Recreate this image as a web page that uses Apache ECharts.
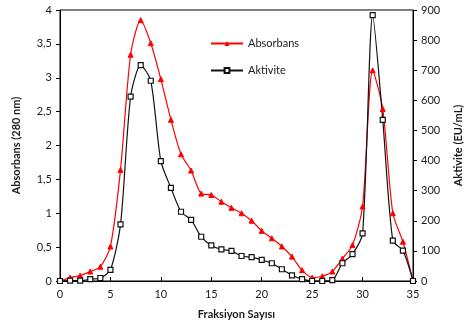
<!DOCTYPE html>
<html>
<head>
<meta charset="utf-8">
<script src="https://cdn.jsdelivr.net/npm/echarts@6/dist/echarts.min.js"></script>
<style>
  html, body { margin: 0; padding: 0; background: #fff; }
  #chart { width: 472px; height: 331px; }
</style>
</head>
<body>
<div id="chart"></div>
<script>
// fraction numbers 0..35
const fractions = [0, 1, 2, 3, 4, 5, 6, 7, 8, 9, 10, 11, 12, 13, 14, 15, 16, 17, 18, 19, 20,
  21, 22, 23, 24, 25, 26, 27, 28, 29, 30, 31, 32, 33, 34, 35];
// absorbance at 280 nm (left axis)
const absorbans = [0, 0.05, 0.08, 0.14, 0.21, 0.51, 1.64, 3.34, 3.85, 3.51, 2.98, 2.38, 1.87, 1.63,
  1.29, 1.27, 1.17, 1.08, 1.0, 0.89, 0.74, 0.63, 0.51, 0.36, 0.16, 0.05, 0.07, 0.14, 0.33, 0.53,
  1.10, 3.11, 2.54, 1.0, 0.58, 0];
// activity EU/mL (right axis)
const aktivite = [0, 1, 1, 6, 10, 37, 188, 612, 717, 665, 398, 309, 230, 203, 147, 118, 105, 100,
  83, 79, 70, 59, 39, 19, 6, 0, 0, 3, 59, 89, 158, 883, 535, 134, 101, 0];

const FONT = 'Lato, "Open Sans", sans-serif';
const LABEL = { color: '#1a1a1a', fontSize: 11, fontFamily: FONT };
const NAME = { color: '#1a1a1a', fontSize: 11, fontWeight: 'bold', fontFamily: FONT };
const LINE = { lineStyle: { color: '#000', width: 1 } };

const chart = echarts.init(document.getElementById('chart'), null, { renderer: 'canvas' });
chart.setOption({
  animation: false,
  grid: { left: 60, right: 52, top: 10, bottom: 50, show: true, borderColor: '#000', borderWidth: 1 },
  legend: {
    orient: 'vertical', left: 205, top: 33, itemWidth: 32, itemHeight: 6, itemGap: 16,
    textStyle: { ...LABEL, fontSize: 11 },
    data: ['Absorbans', 'Aktivite'],
  },
  xAxis: {
    type: 'value', min: 0, max: 35, interval: 5,
    name: 'Fraksiyon Sayısı', nameLocation: 'middle', nameGap: 28, nameTextStyle: NAME,
    axisLine: LINE, axisTick: { inside: true, length: 4, lineStyle: { color: '#000' } },
    axisLabel: { ...LABEL, margin: 8 }, splitLine: { show: false },
  },
  yAxis: [{
    type: 'value', min: 0, max: 4, interval: 0.5, position: 'left',
    name: 'Absorbans (280 nm)', nameLocation: 'middle', nameGap: 38, nameTextStyle: NAME,
    axisLine: { show: true, ...LINE }, axisTick: { show: true, length: 4, lineStyle: { color: '#000' } },
    axisLabel: { ...LABEL, formatter: (v) => String(v).replace('.', ',') },
    splitLine: { show: false },
  }, {
    type: 'value', min: 0, max: 900, interval: 100, position: 'right',
    name: 'Aktivite (EU/mL)', nameLocation: 'middle', nameGap: 40, nameRotate: 90, nameTextStyle: NAME,
    axisLine: { show: true, ...LINE }, axisTick: { show: true, length: 4, lineStyle: { color: '#000' } },
    axisLabel: LABEL, splitLine: { show: false },
  }],
  series: [{
    name: 'Absorbans', type: 'line', yAxisIndex: 0, smooth: 0.25,
    data: fractions.map((f, i) => [f, absorbans[i]]),
    symbol: 'triangle', symbolSize: 5,
    lineStyle: { color: '#ff0000', width: 1.2 }, itemStyle: { color: '#ff0000', borderColor: '#ff0000' },
  }, {
    name: 'Aktivite', type: 'line', yAxisIndex: 1, smooth: 0.25,
    data: fractions.map((f, i) => [f, aktivite[i]]),
    symbol: 'rect', symbolSize: 5,
    lineStyle: { color: '#111', width: 1.2 }, itemStyle: { color: '#fff', borderColor: '#111', borderWidth: 1.2 },
  }],
});
</script>
</body>
</html>
